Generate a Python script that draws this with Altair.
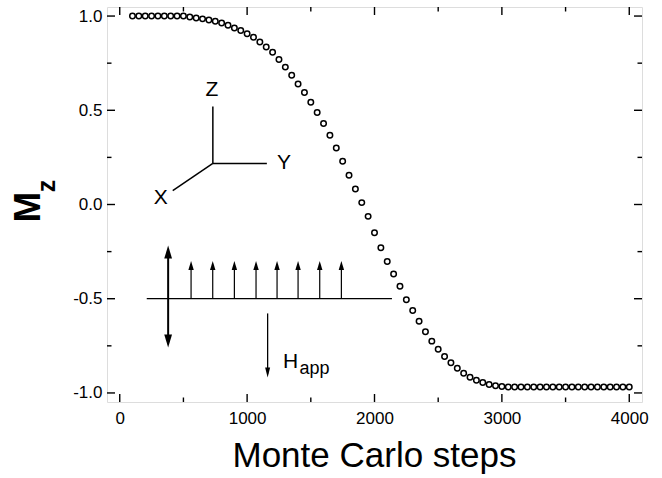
import altair as alt
import pandas as pd

# ---------------- data ----------------
steps = [100, 150, 200, 250, 300, 350, 400, 450, 500, 550,
         600, 650, 700, 750, 800, 850, 900, 950, 1000, 1050,
         1100, 1150, 1200, 1250, 1300, 1350, 1400, 1450, 1500, 1550,
         1600, 1650, 1700, 1750, 1800, 1850, 1900, 1950, 2000, 2050,
         2100, 2150, 2200, 2250, 2300, 2350, 2400, 2450, 2500, 2550,
         2600, 2650, 2700, 2750, 2800, 2850, 2900, 2950, 3000, 3050,
         3100, 3150, 3200, 3250, 3300, 3350, 3400, 3450, 3500, 3550,
         3600, 3650, 3700, 3750, 3800, 3850, 3900, 3950, 4000]
mz = [1.0, 1.0, 1.0, 1.0, 1.0, 1.0, 1.0, 1.0, 1.0, 0.995,
      0.990, 0.985, 0.979, 0.972, 0.963, 0.951, 0.937, 0.923, 0.906, 0.887,
      0.862, 0.836, 0.808, 0.770, 0.729, 0.686, 0.640, 0.594, 0.543, 0.488,
      0.430, 0.368, 0.300, 0.229, 0.155, 0.082, 0.010, -0.063, -0.150, -0.230,
      -0.303, -0.369, -0.434, -0.505, -0.563, -0.620, -0.675, -0.725, -0.768, -0.806,
      -0.840, -0.869, -0.895, -0.917, -0.933, -0.945, -0.955, -0.962, -0.966, -0.969,
      -0.969, -0.969, -0.969, -0.969, -0.969, -0.969, -0.969, -0.969, -0.969, -0.969,
      -0.969, -0.969, -0.969, -0.969, -0.969, -0.969, -0.969, -0.969, -0.969]

x_major = [0, 1000, 2000, 3000, 4000]
x_minor = [500, 1500, 2500, 3500]
y_major = [-1.0, -0.5, 0.0, 0.5, 1.0]
y_minor = [-0.75, -0.25, 0.25, 0.75]

# inset: coordinate triad (data units)
triad_x1 = [731, 731, 731]
triad_y1 = [0.218, 0.218, 0.218]
triad_x2 = [731, 1155, 416]
triad_y2 = [0.52, 0.218, 0.074]
triad_lbl = ["Z", "Y", "X"]
triad_lx = [723, 1289, 322]
triad_ly = [0.610, 0.218, 0.037]

# inset: spin chain
chain_y = -0.499
chain_x = [212, 2137]
spin_x = [560, 730, 900, 1070, 1235, 1400, 1570, 1740]
spin_tip = -0.30
big_x = 380
big_top, big_bot = -0.218, -0.759
h_x = 1161
h_top, h_tip = -0.578, -0.918

# ---------------- chart ----------------
W, H = 535, 395
X_DOM = [-100, 4100]
Y_DOM = [-1.048, 1.048]
xs = alt.Scale(domain=X_DOM, nice=False, zero=False)
ys = alt.Scale(domain=Y_DOM, nice=False, zero=False)
FONT = "Liberation Sans"
PX_X = (X_DOM[1] - X_DOM[0]) / W   # data units per pixel
PX_Y = (Y_DOM[1] - Y_DOM[0]) / H

x_axis = alt.Axis(values=x_major, format="d", title=None, domain=False, ticks=False,
                  tickSize=0, grid=False, labelFontSize=17, labelFont=FONT,
                  labelColor="black", labelPadding=8)
y_axis = alt.Axis(values=y_major, title=None, domain=False, ticks=False, tickSize=0,
                  grid=False, labelFontSize=17, labelFont=FONT, labelColor="black",
                  labelPadding=5,
                  labelExpr="datum.value < 0 ? '-' + format(-datum.value, '.1f') : format(datum.value, '.1f')")

df = pd.DataFrame({"step": steps, "mz": mz})

points = alt.Chart(df).mark_point(
    shape="circle", filled=True, fill="white", stroke="black",
    strokeWidth=1.5, size=30, opacity=1
).encode(
    x=alt.X("step:Q", scale=xs, axis=x_axis),
    y=alt.Y("mz:Q", scale=ys, axis=y_axis),
)

# inward ticks on all four sides, as rule segments in data units
tick_rows = []
for v in x_major + x_minor:
    L = 8 if v in x_major else 4.5
    tick_rows.append({"x1": v, "x2": v, "y1": Y_DOM[0], "y2": Y_DOM[0] + L * PX_Y})
    tick_rows.append({"x1": v, "x2": v, "y1": Y_DOM[1], "y2": Y_DOM[1] - L * PX_Y})
for v in y_major + y_minor:
    L = 8 if v in y_major else 4.5
    tick_rows.append({"x1": X_DOM[0], "x2": X_DOM[0] + L * PX_X, "y1": v, "y2": v})
    tick_rows.append({"x1": X_DOM[1], "x2": X_DOM[1] - L * PX_X, "y1": v, "y2": v})
ticks = alt.Chart(pd.DataFrame(tick_rows)).mark_rule(color="black", strokeWidth=1.4).encode(
    x=alt.X("x1:Q", scale=xs, axis=x_axis),
    y=alt.Y("y1:Q", scale=ys, axis=y_axis),
    x2="x2:Q", y2="y2:Q",
)

# segments
seg_rows = []
for a, b, c, d in zip(triad_x1, triad_y1, triad_x2, triad_y2):
    seg_rows.append({"x1": a, "y1": b, "x2": c, "y2": d, "w": 1.5})
seg_rows.append({"x1": chain_x[0], "y1": chain_y, "x2": chain_x[1], "y2": chain_y, "w": 1.3})
seg_rows.append({"x1": big_x, "y1": big_top - 0.03, "x2": big_x, "y2": big_bot + 0.03, "w": 2.0})
for sx in spin_x:
    seg_rows.append({"x1": sx, "y1": chain_y, "x2": sx, "y2": spin_tip - 0.02, "w": 1.2})
seg_rows.append({"x1": h_x, "y1": h_top, "x2": h_x, "y2": h_tip + 0.02, "w": 1.3})
segs = alt.Chart(pd.DataFrame(seg_rows)).mark_rule(color="black").encode(
    x=alt.X("x1:Q", scale=xs, axis=x_axis),
    y=alt.Y("y1:Q", scale=ys, axis=y_axis),
    x2="x2:Q", y2="y2:Q",
    strokeWidth=alt.StrokeWidth("w:Q", scale=None),
)

UP = "M0,0L0.3,1L-0.3,1Z"
DOWN = "M0,0L0.3,-1L-0.3,-1Z"
HDOWN = "M0,0L0.25,-1L-0.25,-1Z"


def heads(xv, yv, shape, size):
    return alt.Chart(pd.DataFrame({"x": xv, "y": yv})).mark_point(
        shape=shape, size=size, filled=True, color="black", opacity=1, strokeWidth=0
    ).encode(x=alt.X("x:Q", scale=xs, axis=x_axis), y=alt.Y("y:Q", scale=ys, axis=y_axis))


head_layers = [
    heads(spin_x, [spin_tip] * len(spin_x), UP, 324),
    heads([big_x], [big_top], UP, 676),
    heads([big_x], [big_bot], DOWN, 676),
    heads([h_x], [h_tip], HDOWN, 400),
]

triad_text = alt.Chart(pd.DataFrame({"x": triad_lx, "y": triad_ly, "t": triad_lbl})).mark_text(
    font=FONT, fontSize=21, color="black", align="center", baseline="middle"
).encode(x=alt.X("x:Q", scale=xs, axis=x_axis), y=alt.Y("y:Q", scale=ys, axis=y_axis), text="t:N")

h_text = alt.Chart(pd.DataFrame({"x": [1281], "y": [-0.870], "t": ["H"]})).mark_text(
    font=FONT, fontSize=21, color="black", align="left", baseline="alphabetic"
).encode(x=alt.X("x:Q", scale=xs, axis=x_axis), y=alt.Y("y:Q", scale=ys, axis=y_axis), text="t:N")
app_text = alt.Chart(pd.DataFrame({"x": [1412], "y": [-0.897], "t": ["app"]})).mark_text(
    font=FONT, fontSize=18, color="black", align="left", baseline="alphabetic"
).encode(x=alt.X("x:Q", scale=xs, axis=x_axis), y=alt.Y("y:Q", scale=ys, axis=y_axis), text="t:N")

title_df = pd.DataFrame({"t": ["Monte Carlo steps"]})
x_title = alt.Chart(title_df).mark_text(
    font=FONT, fontSize=35, color="black", align="center", baseline="alphabetic"
).encode(x=alt.value(W / 2), y=alt.value(460), text="t:N")

m_title = alt.Chart(pd.DataFrame({"t": ["M"]})).mark_text(
    font=FONT, fontSize=37, fontWeight="bold", color="black", align="center",
    baseline="middle", angle=270
).encode(x=alt.value(-78), y=alt.value(200), text="t:N")
z_title = alt.Chart(pd.DataFrame({"t": ["z"]})).mark_text(
    font=FONT, fontSize=25, fontWeight="bold", color="black", align="center",
    baseline="middle", angle=270
).encode(x=alt.value(-60), y=alt.value(179), text="t:N")

chart = alt.layer(
    ticks, segs, *head_layers, triad_text, h_text, app_text, points,
    x_title, m_title, z_title
).properties(
    width=W, height=H,
    autosize=alt.AutoSizeParams(type="none"),
    padding={"left": 107, "top": 7, "right": 20, "bottom": 76},
).configure_view(stroke="black", strokeWidth=1.8).configure(background="white")

chart.save("out.html", embed_options={"renderer": "svg", "actions": False})
